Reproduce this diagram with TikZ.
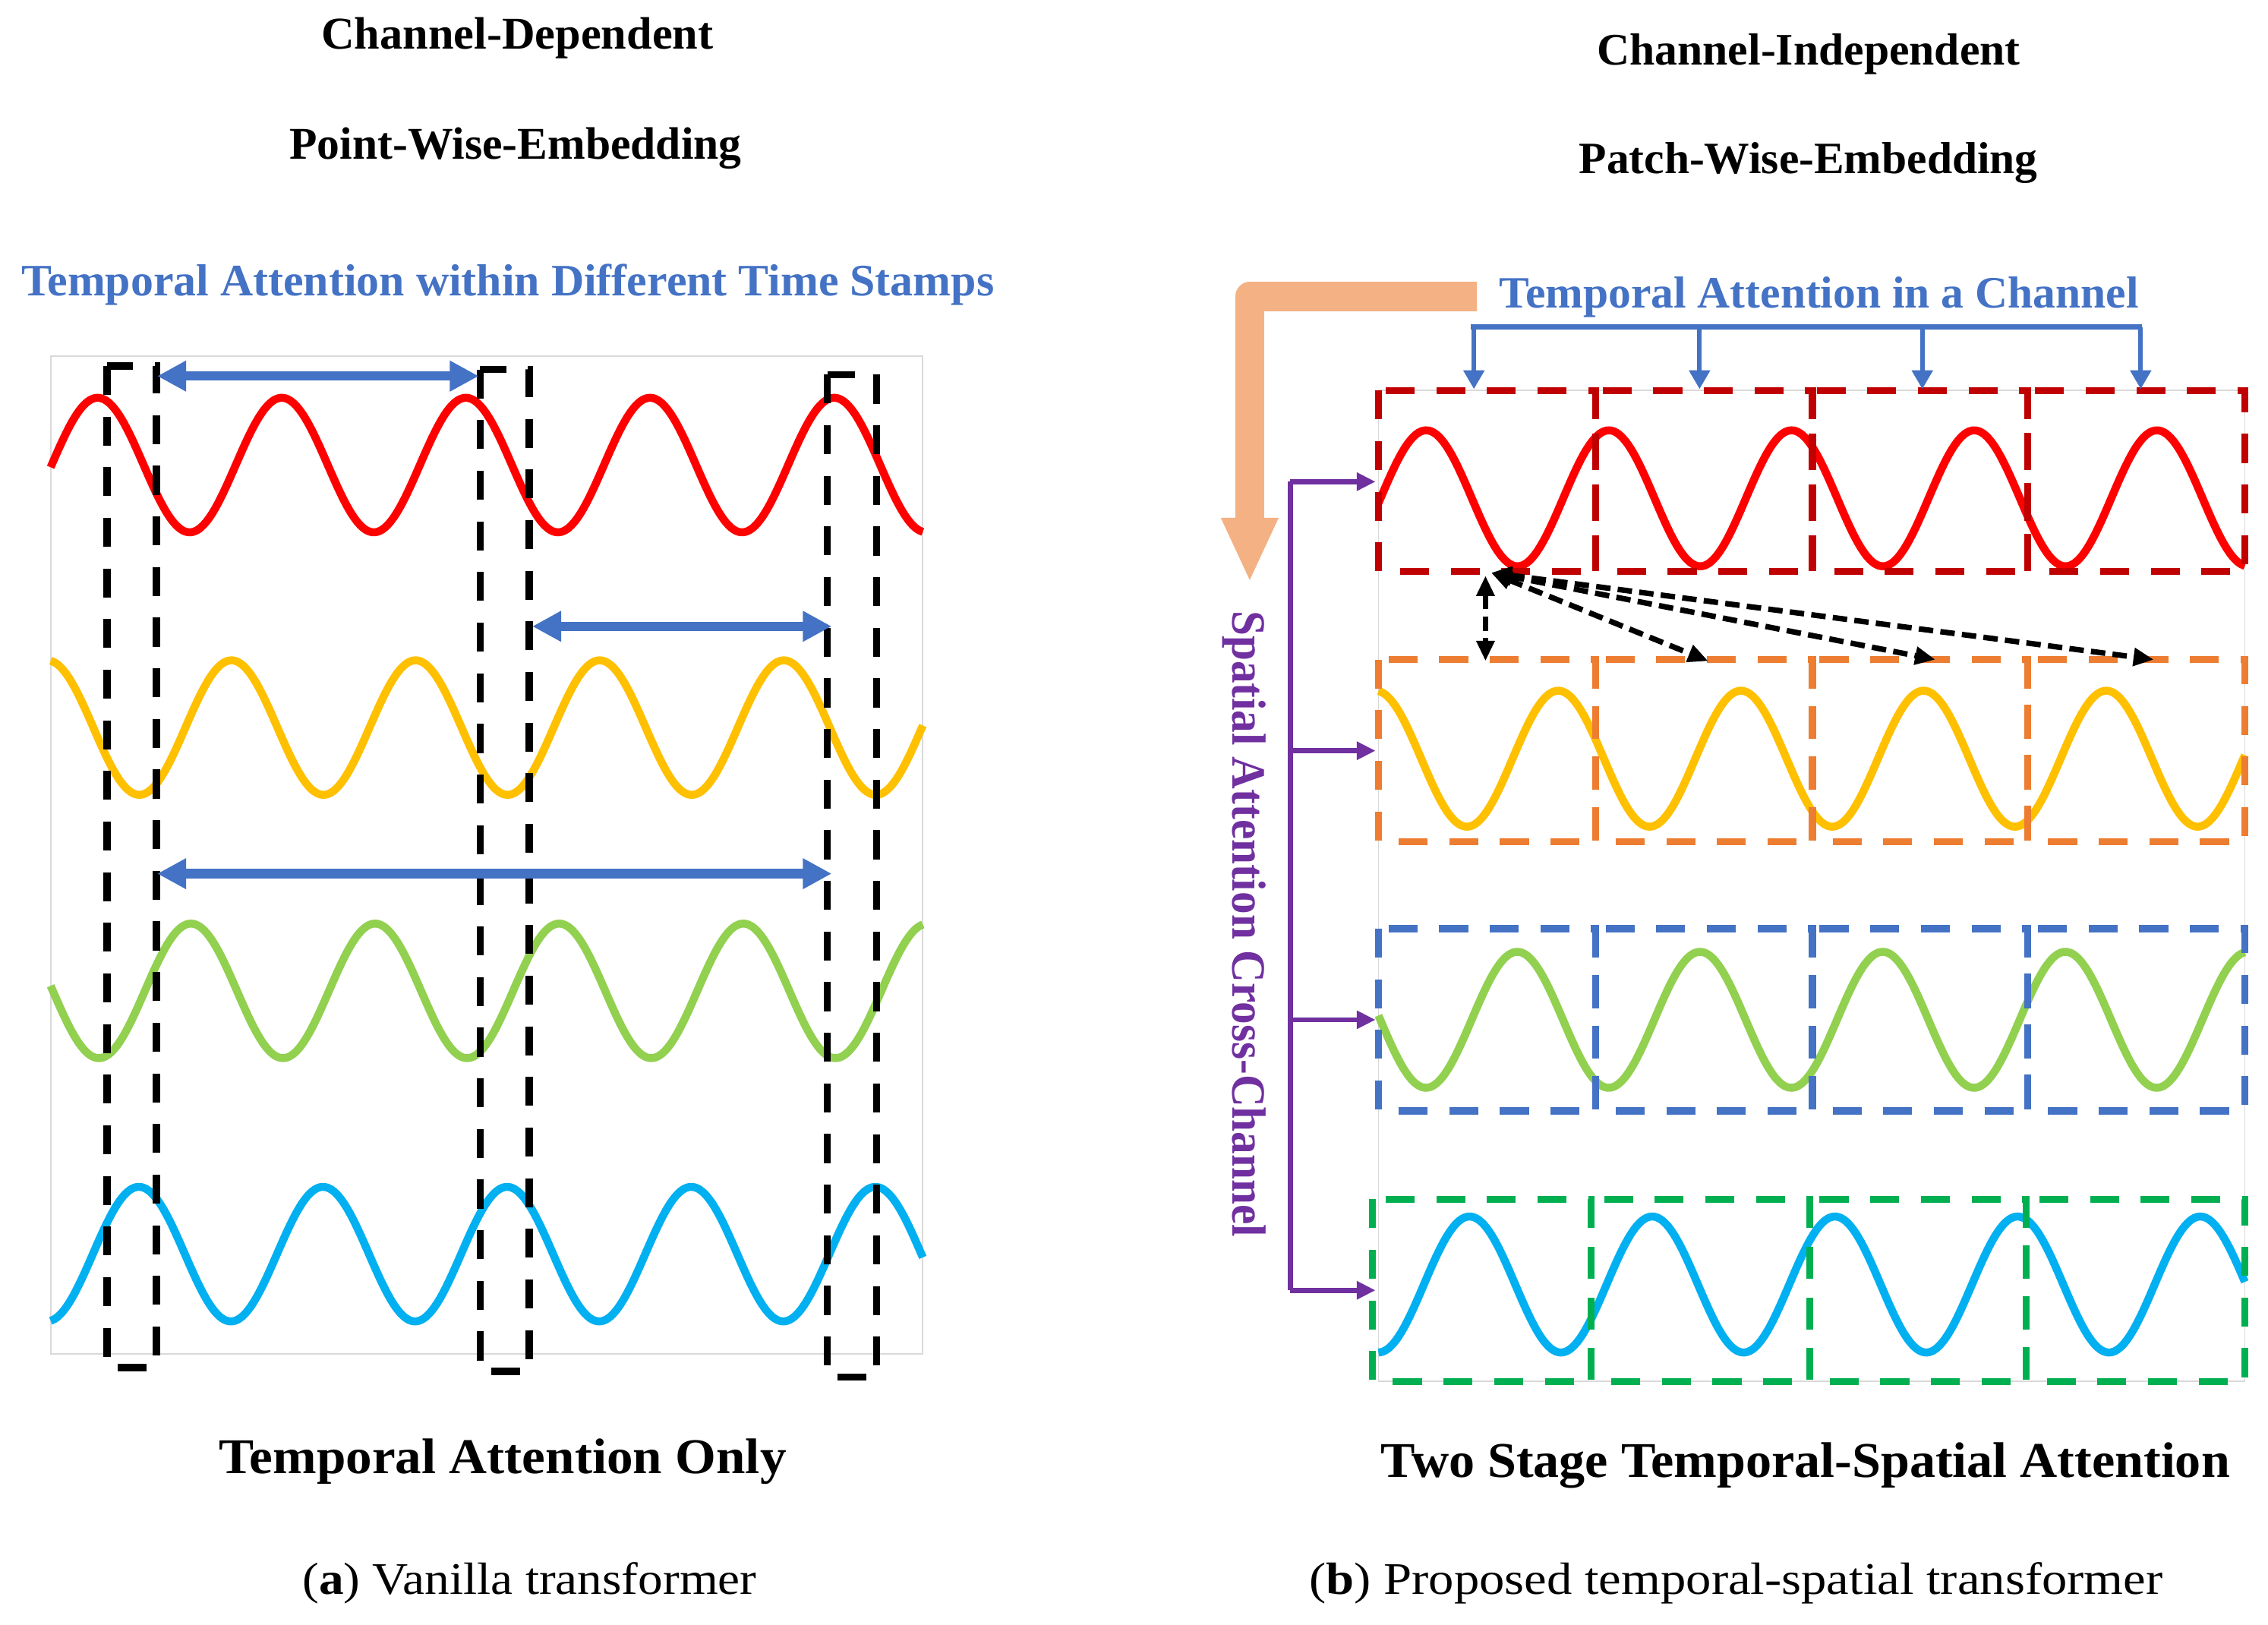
\documentclass[tikz,border=0pt]{standalone}
\usepackage{fontspec}
\setmainfont{Liberation Serif}
\usepackage{graphicx}
\usetikzlibrary{arrows.meta}

\definecolor{tblue}{HTML}{4472C4}
\definecolor{corange}{HTML}{F4B183}
\definecolor{cpurple}{HTML}{7030A0}
\definecolor{wred}{HTML}{FF0000}
\definecolor{wyel}{HTML}{FFC000}
\definecolor{wgrn}{HTML}{92D050}
\definecolor{wcyan}{HTML}{00B0F0}
\definecolor{pred}{HTML}{C00000}
\definecolor{porg}{HTML}{ED7D31}
\definecolor{pblue}{HTML}{4472C4}
\definecolor{pgrn}{HTML}{00B050}
\definecolor{framegray}{HTML}{D9D9D9}

\newcommand{\fitw}[3]{\resizebox{#1mm}{#2mm}{#3}}

\begin{document}
\begin{tikzpicture}[x=0.1mm, y=-0.1mm,
    wave/.style={line width=0.55mm},
    tsbox/.style={line width=0.5mm, dash pattern=on 2mm off 1.5mm},
    patch/.style={line width=0.48mm, dash pattern=on 2mm off 1.5mm},
    tsarrow/.style={tblue, line width=0.65mm, {Triangle[length=2mm,width=2mm]}-{Triangle[length=2mm,width=2mm]}},
    chanarrow/.style={tblue, line width=0.32mm, -{Triangle[length=1.3mm,width=1.4mm]}},
    sparrow/.style={cpurple, line width=0.35mm, -{Triangle[length=1.3mm,width=1.2mm]}},
    link/.style={line width=0.38mm, dash pattern=on 1mm off 0.5mm, {Triangle[length=1.4mm,width=1.2mm]}-{Triangle[length=1.4mm,width=1.2mm]}},
    lbl/.style={anchor=base west, inner sep=0pt}]
  \useasboundingbox (0,0) rectangle (1568,1123);

  \node[lbl] (cd) at (221.5,34.1) {\fitw{27.1}{2.18}{\bfseries Channel-Dependent}};
  \node[lbl] (pw) at (199.5,110.2) {\fitw{31.25}{2.18}{\bfseries Point-Wise-Embedding}};
  \node[lbl, tblue] (tat) at (14,204.7) {\fitw{67.26}{2.19}{\bfseries Temporal Attention within Different Time Stamps}};
  \node[lbl] (ci) at (1103.5,45) {\fitw{29.25}{2.16}{\bfseries Channel-Independent}};
  \node[lbl] (pa) at (1091,120) {\fitw{31.7}{2.15}{\bfseries Patch-Wise-Embedding}};
  \node[lbl, tblue] (tac) at (1036,212.8) {\fitw{44.2}{2.15}{\bfseries Temporal Attention in a Channel}};
  \node[lbl] (tao) at (151,1018.5) {\fitw{39.2}{2.4}{\bfseries Temporal Attention Only}};
  \node[lbl] (tst) at (954,1021.5) {\fitw{58.7}{2.4}{\bfseries Two Stage Temporal-Spatial Attention}};
  \node[lbl] (capa) at (208.4,1102) {\fitw{31.4}{2.2}{(\textbf{a}) Vanilla transformer}};
  \node[lbl] (capb) at (904.5,1102) {\fitw{59}{2.2}{(\textbf{b}) Proposed temporal-spatial transformer}};
  \node[lbl, rotate=-90, cpurple] (sac) at (852,421.5) {\fitw{43.3}{2.3}{\bfseries Spatial Attention Cross-Channel}};

  \draw[framegray, line width=0.1mm] (35,246) rectangle (638,936);
  \draw[framegray, line width=0.1mm] (953,270) rectangle (1552,955);

  \foreach \c/\yc/\ph in {wred/321.5/67.5, wyel/503/160, wgrn/685/132, wcyan/867/96}
    \draw[wave, \c] plot[domain=35:638, samples=240, smooth] (\x, {\yc-46.5*cos((\x-\ph)/127.3*360)});
  \foreach \c/\yc/\ph in {wred/344.5/986, wyel/524.5/951, wgrn/705/1049, wcyan/888/1016}
    \draw[wave, \c] plot[domain=953:1552, samples=240, smooth] (\x, {\yc-47*cos((\x-\ph)/126.3*360)});

  \draw[tsbox] (74,253) rectangle (108,945.5);
  \draw[tsbox] (332,255.5) rectangle (366,948);
  \draw[tsbox] (572,259) rectangle (606,952);
  \coordinate (a1) at (108.7,260);
  \coordinate (b1) at (331,260);
  \coordinate (a2) at (368,433);
  \coordinate (b2) at (575,433);
  \coordinate (a3) at (108.7,604);
  \coordinate (b3) at (575,604);
  \draw[tsarrow] (a1) -- (b1);
  \draw[tsarrow] (a2) -- (b2);
  \draw[tsarrow] (a3) -- (b3);

  \foreach \c/\ya/\yb in {pred/270/395, porg/456/582, pblue/642/768}
    \foreach \xa/\xb in {953/1103, 1103/1253, 1253/1402, 1402/1552}
      \draw[patch, \c] (\xa,\ya) rectangle (\xb,\yb);
  \foreach \xa/\xb in {949/1100, 1100/1251, 1251/1401, 1401/1552}
    \draw[patch, pgrn] (\xa,829) rectangle (\xb,955);

  \draw[line width=2mm, corange, line join=round] (1021,205) -- (864,205) -- (864,360);
  \fill[corange] (844,358) -- (884,358) -- (864,401) -- cycle;

  \draw[tblue, line width=0.32mm] (1017,226) -- (1481,226);
  \foreach \i/\xx in {1/1019, 2/1175, 3/1329, 4/1480} {
    \coordinate (ct\i) at (\xx,226);
    \coordinate (cp\i) at (\xx,269);
    \draw[chanarrow] (ct\i) -- (cp\i);
  }

  \draw[cpurple, line width=0.35mm] (892,333) -- (892,892);
  \foreach \i/\yy in {1/333, 2/519, 3/705, 4/892} {
    \coordinate (sb\i) at (892,\yy);
    \coordinate (sp\i) at (951,\yy);
    \draw[sparrow] (sb\i) -- (sp\i);
  }

  \coordinate (hub) at (1031,396);
  \coordinate (vtop) at (1027,398);
  \coordinate (l0) at (1027,457);
  \coordinate (l1) at (1181,457);
  \coordinate (l2) at (1338,456);
  \coordinate (l3) at (1489,456);
  \draw[link] (vtop) -- (l0);
  \foreach \t in {l1,l2,l3}
    \draw[link] (hub) -- (\t);
\end{tikzpicture}
\end{document}
